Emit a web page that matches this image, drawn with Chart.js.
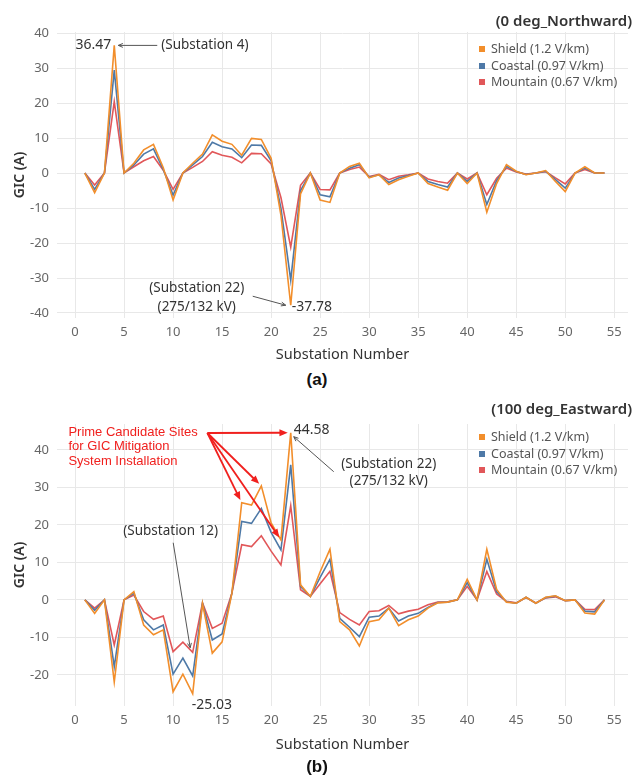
<!DOCTYPE html>
<html>
<head>
<meta charset="utf-8">
<script src="https://cdn.jsdelivr.net/npm/chart.js@4.4.1/dist/chart.umd.min.js"></script>
<style>
  body { margin: 0; background: #fff; font-family: "Noto Sans", sans-serif; }
  #page { position: relative; width: 634px; height: 777px; overflow: hidden; }
  .box { position: absolute; left: 0; width: 634px; height: 368px; }
  .ttl { position: absolute; right: 2px; font-size: 15px; line-height: 20px; color: #333; font-weight: 600; }
  .cap { position: absolute; left: 0; width: 634px; text-align: center; font: bold 17px/20px "Liberation Sans", Arial, sans-serif; color: #111; }
  .legend { position: absolute; left: 479px; font-size: 12.5px; color: #555; white-space: nowrap; }
  .legend div { height: 16.5px; line-height: 16.5px; }
  .legend i { display: inline-block; width: 6px; height: 6px; margin-right: 6px; vertical-align: 1px; }
</style>
</head>
<body>
<div id="page">
  <div class="box" style="top:0"><canvas id="north"></canvas></div>
  <div class="ttl" style="top:10px">(0 deg_Northward)</div>
  <div class="legend" id="legN" style="top:41px"></div>
  <div class="cap" style="top:370px">(a)</div>

  <div class="box" style="top:390px"><canvas id="east"></canvas></div>
  <div class="ttl" style="top:398px">(100 deg_Eastward)</div>
  <div class="legend" id="legE" style="top:429px"></div>
  <div class="cap" style="top:757px">(b)</div>
</div>
<script>
const substations = [1,2,3,4,5,6,7,8,9,10,11,12,13,14,15,16,17,18,19,20,21,22,23,24,25,26,27,
  28,29,30,31,32,33,34,35,36,37,38,39,40,41,42,43,44,45,46,47,48,49,50,51,52,53,54];
const xTicks = [0,5,10,15,20,25,30,35,40,45,50,55];
const yTicksNorth = [-40,-30,-20,-10,0,10,20,30,40];
const yTicksEast = [-20,-10,0,10,20,30,40];

const seriesNames = ['Shield (1.2 V/km)', 'Coastal (0.97 V/km)', 'Mountain (0.67 V/km)'];
const seriesColors = ['#f28e2b', '#4e79a7', '#e15759'];

// (a) 0 deg, northward field
const northShield = [0,-5.6,0,36.47,0,2.8,6.6,8.2,1.5,-7.7,0,2.8,5.4,10.9,9.1,8.2,5.1,9.9,9.6,4.2,
  -12,-37.78,-6,0,-7.7,-8.4,0,1.9,2.8,-1.4,-0.5,-3.3,-1.9,-0.9,0,-3.0,-4.0,-4.9,0,-3.0,
  0,-11.2,-3,2.4,0.5,-0.5,0,0.7,-2.4,-5.3,0,1.8,0,0];
const northCoastal = [0,-4.7,0,29.4,0,2.3,5.4,6.9,1.0,-6.3,0,2.3,4.7,8.8,7.5,6.9,4.4,8.0,7.9,3.5,
  -10,-30.6,-5,0,-6.2,-6.8,0,1.4,2.4,-1.2,-0.5,-2.7,-1.4,-0.7,0,-2.4,-3.3,-4.0,0,-2.4,
  0,-9.0,-2.2,1.9,0.4,-0.4,0,0.5,-1.9,-4.3,0,1.4,0,0];
const northMountain = [0,-3.4,0,20.4,0,1.8,3.5,4.7,0.8,-4.7,0,1.6,3.3,6.1,5.1,4.5,2.9,5.6,5.5,2.6,
  -7,-21.2,-3.5,0,-4.7,-4.8,0,1.0,1.7,-1.0,-0.4,-1.9,-0.9,-0.5,0,-1.7,-2.4,-2.9,0,-1.7,
  0,-6.2,-1.5,1.4,0.3,-0.3,0,0.4,-1.4,-3.1,0,1.0,0,0];

// (b) 100 deg, eastward field
const eastShield = [0,-3.6,0,-21.9,0,2.2,-6.7,-9.3,-8,-24.5,-19.8,-25.03,-1,-14.2,-11.2,1.8,25.9,25.3,30.4,20.5,
  16.0,44.58,4.0,0.9,7.5,13.5,-5.8,-8.0,-12.3,-5.8,-5.3,-2.2,-6.9,-5.3,-4.3,-2.2,-0.8,-0.6,0,5.5,
  0,13.5,2.8,-0.6,-0.9,0.7,-0.9,0.7,1.1,-0.2,0,-3.5,-3.8,0];
const eastCoastal = [0,-2.8,0,-17.8,0,1.8,-5.3,-8,-6.7,-19.8,-15.5,-20.3,-0.9,-10.7,-9.1,1.8,20.9,20.4,24.4,18,
  13.3,36.0,3.6,0.9,6,10.8,-4.9,-7.3,-9.8,-4.6,-4.3,-2.2,-5.6,-4.3,-3.6,-2.0,-0.7,-0.6,0,4.6,
  0,10.8,2.2,-0.5,-0.9,0.7,-0.9,0.6,1.0,-0.2,0,-3.0,-3.2,0];
const eastMountain = [0,-2.2,0,-12,0,1.3,-3.1,-5.2,-4.3,-13.8,-11.3,-14,-0.8,-7.6,-6.2,1.8,14.7,14.2,17.1,13,
  9.3,25.1,2.7,0.9,4.3,7.6,-3.4,-5.2,-6.7,-3.1,-2.9,-1.5,-3.7,-3.0,-2.5,-1.3,-0.6,-0.5,0,3.6,
  0,7.6,1.6,-0.4,-0.8,0.6,-0.8,0.5,0.8,-0.2,0,-2.5,-2.6,0];

const primeSites = [17, 19, 21, 22];

const FONT = '"Noto Sans", sans-serif';

function pts(vals) {
  return substations.map((s, i) => ({ x: s, y: vals[i] }));
}

function legend(id) {
  document.getElementById(id).innerHTML = seriesNames.map((n, i) =>
    '<div><i style="background:' + seriesColors[i] + '"></i>' + n + '</div>').join('');
}
legend('legN');
legend('legE');

function arrow(ctx, x1, y1, x2, y2, color, width, head, filled) {
  const a = Math.atan2(y2 - y1, x2 - x1);
  ctx.save();
  ctx.strokeStyle = color;
  ctx.fillStyle = color;
  ctx.lineWidth = width;
  ctx.beginPath();
  ctx.moveTo(x1, y1);
  ctx.lineTo(x2 - Math.cos(a) * (filled ? head * 0.8 : 0), y2 - Math.sin(a) * (filled ? head * 0.8 : 0));
  ctx.stroke();
  ctx.beginPath();
  ctx.moveTo(x2, y2);
  ctx.lineTo(x2 - head * Math.cos(a - 0.4), y2 - head * Math.sin(a - 0.4));
  if (filled) {
    ctx.lineTo(x2 - head * Math.cos(a + 0.4), y2 - head * Math.sin(a + 0.4));
    ctx.closePath();
    ctx.fill();
  } else {
    ctx.moveTo(x2, y2);
    ctx.lineTo(x2 - head * Math.cos(a + 0.4), y2 - head * Math.sin(a + 0.4));
    ctx.stroke();
  }
  ctx.restore();
}

// annotations: anchored on data values, offsets in px
const notes = {
  id: 'notes',
  afterDatasetsDraw(chart, args, opts) {
    const ctx = chart.ctx;
    const xs = chart.scales.x, ys = chart.scales.y;
    const px = (p) => [xs.getPixelForValue(p[0]), ys.getPixelForValue(p[1])];
    (opts.items || []).forEach(it => {
      const [ax, ay] = px(it.at);
      if (it.text) {
        ctx.save();
        ctx.font = it.font || ('13.5px ' + FONT);
        ctx.fillStyle = it.color || '#333';
        ctx.textAlign = it.align || 'left';
        ctx.textBaseline = 'middle';
        ctx.fillText(it.text, ax + it.dx, ay + it.dy);
        ctx.restore();
      } else if (it.to) {
        const [bx, by] = px(it.to);
        const a = Math.atan2(by - ay, bx - ax);
        const back = it.back || 0;
        arrow(ctx, ax + (it.dx || 0), ay + (it.dy || 0), bx - Math.cos(a) * back, by - Math.sin(a) * back,
          it.color, it.width, it.head, it.filled);
      } else {
        arrow(ctx, ax + it.dx, ay + it.dy, ax + it.ex, ay + it.ey, it.color || '#555', it.width || 1, it.head || 5, false);
      }
    });
  }
};

function makeChart(id, vals, yMin, yMax, yTicks, padTop, xHeight, items) {
  return new Chart(document.getElementById(id), {
    type: 'line',
    data: {
      datasets: vals.map((v, i) => ({
        label: seriesNames[i],
        data: pts(v),
        borderColor: seriesColors[i],
        backgroundColor: seriesColors[i],
        borderWidth: 1.6,
        pointRadius: 0,
        tension: 0,
        fill: false
      }))
    },
    options: {
      responsive: false,
      animation: false,
      devicePixelRatio: 1,
      layout: { padding: { top: padTop, right: 6, left: 0, bottom: 0 } },
      plugins: { legend: { display: false }, tooltip: { enabled: false }, notes: { items } },
      scales: {
        x: {
          type: 'linear',
          min: -1.84, max: 56.4,
          afterBuildTicks: s => { s.ticks = xTicks.map(v => ({ value: v })); },
          afterFit: s => { s.height = xHeight; },
          grid: { color: '#e8e8e8', drawTicks: false },
          border: { display: false },
          ticks: { color: '#666', font: { family: FONT, size: 13 }, padding: 6, maxRotation: 0 },
          title: { display: true, text: 'Substation Number', color: '#333',
            font: { family: FONT, size: 14.5 }, padding: { top: 0, bottom: 4 } }
        },
        y: {
          min: yMin, max: yMax,
          afterBuildTicks: s => { s.ticks = yTicks.map(v => ({ value: v })); },
          afterFit: s => { s.width = 57; },
          grid: { color: '#e8e8e8', drawTicks: false },
          border: { display: false },
          ticks: { color: '#666', font: { family: FONT, size: 13 }, padding: 8 },
          title: { display: true, text: 'GIC (A)', color: '#333',
            font: { family: FONT, size: 14, weight: '600' }, padding: { top: 12, bottom: 0 } }
        }
      }
    },
    plugins: [notes]
  });
}

const nPeak = [4, northShield[3]];
const nLow = [22, northShield[21]];
const ePeak = [22, eastShield[21]];
const eLow = [12, eastShield[11]];
const origin = [13.5, 44.5];
const RED = '#f0201e';
const redFont = '13px "Liberation Sans", Arial, sans-serif';

const northItems = [
  { at: nPeak, text: northShield[3].toFixed(2), dx: -3, dy: 0, align: 'right', font: '14px ' + FONT },
  { at: nPeak, dx: 43, dy: 0, ex: 4, ey: 0 },
  { at: nPeak, text: '(Substation 4)', dx: 47, dy: 0 },
  { at: nLow, text: northShield[21].toFixed(2), dx: 1, dy: 2, font: '14px ' + FONT },
  { at: nLow, dx: -38, dy: -9, ex: -5, ey: 0 },
  { at: nLow, text: '(Substation 22)', dx: -94, dy: -17, align: 'center' },
  { at: nLow, text: '(275/132 kV)', dx: -94, dy: 2, align: 'center' }
];

const eastItems = [
  { at: ePeak, text: eastShield[21].toFixed(2), dx: 3, dy: -3, font: '14px ' + FONT },
  { at: ePeak, dx: 43, dy: 39, ex: 3, ey: 4 },
  { at: ePeak, text: '(Substation 22)', dx: 98, dy: 31, align: 'center' },
  { at: ePeak, text: '(275/132 kV)', dx: 98, dy: 48, align: 'center' },
  { at: origin, text: 'Prime Candidate Sites', dx: -139, dy: -1, color: RED, font: redFont },
  { at: origin, text: 'for GIC Mitigation', dx: -139, dy: 13, color: RED, font: redFont },
  { at: origin, text: 'System Installation', dx: -139, dy: 28, color: RED, font: redFont },
  ...primeSites.map(s => ({ at: origin, to: [s, eastShield[s - 1]], back: 3, color: RED, width: 1.8, head: 9, filled: true })),
  { at: eLow, text: eastShield[11].toFixed(2), dx: -1, dy: 11, font: '14px ' + FONT },
  { at: eLow, dx: -19.5, dy: -151, ex: -2.5, ey: -46 },
  { at: eLow, text: '(Substation 12)', dx: -22, dy: -163, align: 'center' }
];

function sizeCanvas(id) {
  const c = document.getElementById(id);
  c.width = 634; c.height = 368;
  c.style.width = '634px'; c.style.height = '368px';
}
sizeCanvas('north');
sizeCanvas('east');

// plot tops sit on the upper grid lines like the reference
makeChart('north', [northShield, northCoastal, northMountain], -41.43, 40.3, yTicksNorth, 32, 50, northItems);
makeChart('east', [eastShield, eastCoastal, eastMountain], -28.3, 46.9, yTicksEast, 34, 52, eastItems);
</script>
</body>
</html>
